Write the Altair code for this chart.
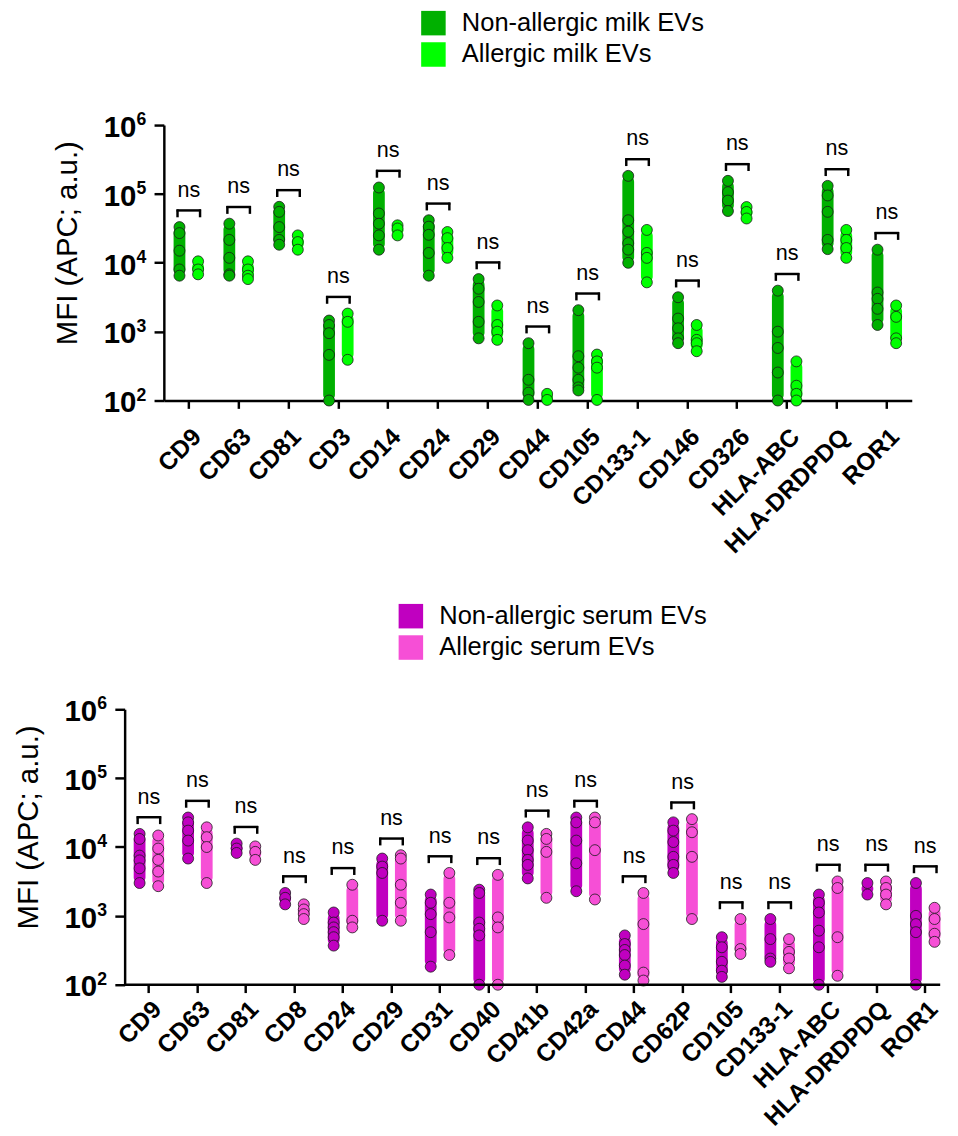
import altair as alt
import pandas as pd

# ---------------- data ----------------
top_categories = ["CD9", "CD63", "CD81", "CD3", "CD14", "CD24", "CD29", "CD44", "CD105",
                  "CD133-1", "CD146", "CD326", "HLA-ABC", "HLA-DRDPDQ", "ROR1"]
top_groups = ["Non-allergic milk EVs", "Allergic milk EVs"]
top_nonallergic = [
    [33000, 27000, 15000, 8000, 6500],
    [37000, 21500, 11800, 6800, 6500],
    [65000, 55000, 33000, 21500, 18300],
    [1450, 1250, 950, 460, 100],
    [124000, 52000, 37000, 25000, 15500],
    [41500, 33500, 25500, 13900, 6500],
    [5800, 4200, 2700, 1390, 800],
    [680, 200, 130, 102],
    [2050, 440, 300, 200, 155, 140],
    [183000, 41500, 28300, 19300, 15500, 10000],
    [3160, 1550, 1120, 800, 680],
    [155000, 106000, 80000, 56500],
    [3940, 1000, 580, 255, 100],
    [131000, 95000, 55000, 21500, 15800],
    [15500, 3700, 3000, 2150, 1250],
]
top_allergic = [
    [10500, 8000, 6800],
    [10500, 8000, 6500, 5800],
    [25000, 20000, 15500],
    [1830, 1390, 390],
    [35000, 31500, 25000],
    [28000, 22800, 16400, 11800],
    [2400, 1250, 1000, 760],
    [125, 102],
    [465, 370, 300, 102],
    [30000, 13900, 11800, 5200],
    [1250, 760, 680, 520],
    [64500, 54700, 44000],
    [370, 164, 125, 100],
    [30000, 21500, 16400, 11800],
    [2400, 1640, 800, 680],
]

bottom_categories = ["CD9", "CD63", "CD81", "CD8", "CD24", "CD29", "CD31", "CD40", "CD41b",
                     "CD42a", "CD44", "CD62P", "CD105", "CD133-1", "HLA-ABC", "HLA-DRDPDQ", "ROR1"]
bottom_groups = ["Non-allergic serum EVs", "Allergic serum EVs"]
bottom_nonallergic = [
    [15500, 13100, 7500, 6400, 4900, 3000],
    [26800, 22800, 17300, 12400, 6800],
    [11200, 9500, 8200],
    [2150, 1830, 1470],
    [1120, 800, 680, 580, 490, 370],
    [6800, 5200, 4200, 850],
    [2040, 1550, 1060, 580, 183],
    [2400, 2150, 800, 650, 520, 100],
    [19300, 12400, 9000, 6500, 5500, 3500],
    [26800, 22800, 12400, 5800, 2280],
    [520, 390, 320, 270, 190, 140],
    [22800, 17300, 11800, 7200, 5500, 4200],
    [490, 350, 215, 160, 130],
    [900, 460, 240, 215],
    [2040, 1550, 1120, 610, 350, 100],
    [3000, 2040],
    [3000, 1000, 760, 580, 100],
]
bottom_allergic = [
    [14700, 9500, 6500, 4400, 2700],
    [19300, 13900, 10000, 3000],
    [10200, 8500, 6500],
    [1470, 1240, 1060, 900],
    [2830, 850, 680],
    [7600, 6800, 2830, 1550, 850],
    [4200, 1550, 950, 270],
    [3940, 950, 680, 100],
    [15500, 13100, 8500, 1830],
    [26800, 22800, 9000, 1730],
    [2150, 760, 150, 115],
    [25400, 16400, 7200, 900],
    [900, 330, 280],
    [460, 300, 240, 173],
    [3160, 2540, 490, 135],
    [3160, 2540, 2040, 1470],
    [1310, 900, 550, 420],
]

y_tick_values = [100, 1000, 10000, 100000, 1000000]
y_tick_exponents = ["2", "3", "4", "5", "6"]
y_title = "MFI (APC; a.u.)"

top_colors = ["#00B000", "#00FF00"]
bottom_colors = ["#C000C0", "#F64FD6"]

FONT = "Liberation Sans"


def long_table(cats, dark, light, groups):
    rows = []
    for c, dv, lv in zip(cats, dark, light):
        for v in dv:
            rows.append({"marker": c, "group": groups[0], "value": v})
        for v in lv:
            rows.append({"marker": c, "group": groups[1], "value": v})
    return pd.DataFrame(rows)


def panel(cats, dark, light, groups, colors, plot_width, height, legend_xy,
          shift=0, band_span=None, manual_domain=False, label_padding=16):
    """shift: horizontal indent (px) of this panel's axes inside its view."""
    df = long_table(cats, dark, light, groups)
    span = band_span if band_span is not None else plot_width
    width = shift + plot_width
    ys = alt.Scale(type="log", domain=[100, 1000000], nice=False)
    yaxis = alt.Axis(title=y_title, values=y_tick_values, labels=False, tickSize=10,
                     tickWidth=2.5, tickColor="black", domainColor="black", domainWidth=2.5,
                     grid=False, titleFont=FONT, titleFontSize=30, titleFontWeight="normal",
                     titleColor="black", titlePadding=72, titleY=120, offset=-shift)
    xs = alt.Scale(domain=cats, paddingInner=0, paddingOuter=0, range=[shift, shift + span])
    xaxis = alt.Axis(title=None, labelAngle=-45, labelFont=FONT, labelFontSize=25,
                     labelFontWeight="bold", labelColor="black", tickSize=8, tickWidth=2.5,
                     tickColor="black", domain=not manual_domain, domainWidth=2.5,
                     domainColor="black", labelPadding=label_padding, grid=False)
    X = alt.X("marker:N", scale=xs, axis=xaxis)
    cscale = alt.Scale(domain=groups, range=colors)
    legend = alt.Legend(orient="none", legendX=legend_xy[0], legendY=legend_xy[1], title=None,
                        symbolType="square", symbolSize=625, symbolStrokeWidth=0,
                        symbolOpacity=1, labelFont=FONT, labelFontSize=26, labelColor="black",
                        labelLimit=500, rowPadding=6, labelOffset=16, padding=0)
    fill = alt.Fill("group:N", scale=cscale, legend=legend)
    base = alt.Chart(df)
    layers = []
    for grp, off in [(groups[0], -9.5), (groups[1], 9.5)]:
        sub = base.transform_filter(alt.datum.group == grp)
        layers.append(
            sub.mark_bar(width=12, cornerRadius=6, xOffset=off).encode(
                x=X,
                y=alt.Y("min(value):Q", scale=ys, axis=yaxis),
                y2=alt.Y2("max(value):Q"),
                fill=fill,
            )
        )
    for grp, off in [(groups[0], -9.5), (groups[1], 9.5)]:
        sub = base.transform_filter(alt.datum.group == grp)
        layers.append(
            sub.mark_circle(size=125, stroke="#1a1a1a", strokeWidth=0.8, opacity=1,
                            xOffset=off).encode(
                x=X,
                y=alt.Y("value:Q", scale=ys, axis=yaxis),
                fill=fill,
            )
        )
    ymax = alt.Y("max(value):Q", scale=ys, axis=yaxis)
    layers.append(
        base.mark_rule(strokeWidth=2.5, color="black", xOffset=-12.5, x2Offset=12.5,
                       yOffset=-17).encode(x=X, x2=alt.X2("marker:N"), y=ymax)
    )
    for off in (-11.5, 11.5):
        layers.append(
            base.mark_rule(strokeWidth=2.5, color="black", xOffset=off, yOffset=-18,
                           y2Offset=-10).encode(x=X, y=ymax, y2=alt.Y2("max(value):Q"))
        )
    layers.append(
        base.mark_text(text="ns", font=FONT, fontSize=22, baseline="alphabetic", dy=-31,
                       color="black").encode(x=X, y=ymax)
    )
    ticks_df = pd.DataFrame({"v": y_tick_values, "base": ["10"] * len(y_tick_values),
                             "exp": y_tick_exponents})
    tick_chart = alt.Chart(ticks_df)
    layers.append(
        tick_chart.mark_text(align="right", baseline="middle", font=FONT, fontSize=30,
                             fontWeight="bold", color="black", dy=3).encode(
            x=alt.value(shift - 28), y=alt.Y("v:Q", scale=ys, axis=yaxis), text="base:N")
    )
    layers.append(
        tick_chart.mark_text(align="left", baseline="middle", font=FONT, fontSize=18,
                             fontWeight="bold", color="black", dy=-5).encode(
            x=alt.value(shift - 28), y=alt.Y("v:Q", scale=ys, axis=yaxis), text="exp:N")
    )
    if manual_domain:
        layers.append(
            alt.Chart(pd.DataFrame({"v": [100]})).mark_rule(strokeWidth=2.5, color="black").encode(
                y=alt.Y("v:Q", scale=ys, axis=yaxis), x=alt.value(shift), x2=alt.value(width))
        )
    return alt.layer(*layers).properties(width=width, height=height)


top = panel(top_categories, top_nonallergic, top_allergic, top_groups, top_colors,
            763, 281, (302, -117), shift=40)
bottom = panel(bottom_categories, bottom_nonallergic, bottom_allergic, bottom_groups,
               bottom_colors, 832, 281, (279, -108), band_span=841.5, manual_domain=True,
               label_padding=4)

chart = alt.vconcat(
    top,
    bottom,
    spacing=46,
).resolve_scale(
    fill="independent", x="independent", y="independent"
).properties(
    padding={"left": 5, "top": -9, "right": 0, "bottom": 0},
    background="white",
).configure_view(stroke=None)

chart.save("out.html", embed_options={"renderer": "svg", "actions": False})
